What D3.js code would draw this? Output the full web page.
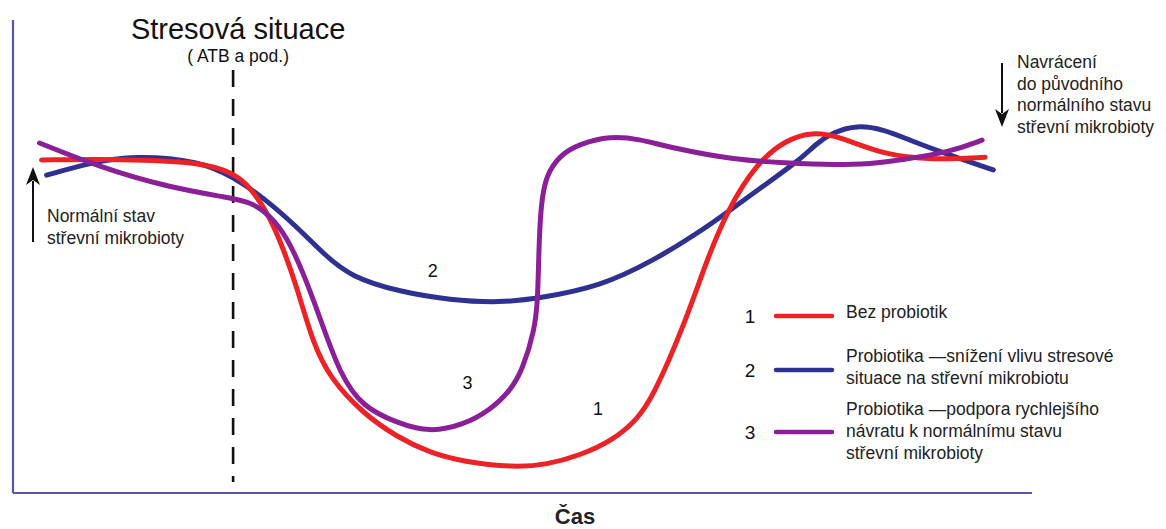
<!DOCTYPE html>
<html><head><meta charset="utf-8">
<script src="https://cdn.jsdelivr.net/npm/d3@7"></script>
<style>body{margin:0;background:#fff}svg{display:block}text{font-family:"Liberation Sans",Arial,Helvetica,sans-serif}</style>
</head><body>
<svg id="c" width="1166" height="529"></svg>
<script>
// Time (0-100) and microbiota level (0-100)
const redT = [2.8,10.5,18.4,21.6,23.3,25.2,26.5,27.9,29.4,31.1,34.3,37.7,40.9,44.2,49.1,52.4,55.6,58.9,61.2,62.8,65.8,68.1,70.1,73.0,75.8,78.4,81.2,85.4,90.3,95.4];
const redV = [70.4,70.6,70.0,67.7,64.7,58.4,51.8,43.3,31.9,24.3,16.9,11.8,8.5,6.6,5.4,6.0,7.9,11.2,15.4,20.3,35.1,49.3,59.8,69.8,74.6,76.4,75.3,71.5,70.4,71.0];
const blueT = [3.3,7.6,11.8,18.4,21.6,24.5,27.9,30.4,33.1,38.0,42.9,47.8,51.7,57.6,63.0,67.4,70.7,74.0,77.2,78.9,80.5,82.8,85.4,88.0,91.3,96.2];
const blueV = [67.2,69.8,71.4,70.2,66.8,62.6,56.2,50.7,45.7,42.5,40.8,40.2,41.2,43.6,49.3,55.2,60.3,65.5,70.4,74.0,76.3,77.8,76.9,74.6,71.9,68.3];
const purpleT = [2.6,8.5,15.1,21.3,23.3,25.2,26.9,28.5,30.1,32.1,34.3,37.7,40.9,44.2,46.8,48.8,50.0,51.2,51.5,51.6,51.8,52.3,53.7,55.6,58.6,61.5,64.2,70.7,77.2,83.8,87.0,92.0,95.1];
const purpleV = [74.0,68.9,64.7,62.4,61.5,58.8,54.1,46.5,37.2,25.0,18.2,14.8,12.8,14.4,17.5,21.6,26.0,34.5,40.8,51.4,60.9,67.2,71.5,73.8,75.5,74.8,73.2,70.4,69.6,69.3,70.4,72.1,74.6];
const stressT = 21.6;
const seriesNums = ["1","2","3"];
const seriesColors = ["#ec2227","#2e3192","#8a1f98"];
const legendLines = [["Bez probiotik"],["Probiotika \u2014sn\u00ed\u017een\u00ed vlivu stresov\u00e9","situace na st\u0159evn\u00ed mikrobiotu"],["Probiotika \u2014podpora rychlej\u0161\u00edho","n\u00e1vratu k norm\u00e1ln\u00edmu stavu","st\u0159evn\u00ed mikrobioty"]];
const curveLabels = [{n:"1",t:57.4,v:16.5},{n:"2",t:41.2,v:45.6},{n:"3",t:44.6,v:22.0}];
const leftNote = ["Norm\u00e1ln\u00ed stav","st\u0159evn\u00ed mikrobioty"];
const rightNote = ["Navr\u00e1cen\u00ed","do p\u016fvodn\u00edho","norm\u00e1ln\u00edho stavu","st\u0159evn\u00ed mikrobioty"];

const svg = d3.select("#c");
const x = d3.scaleLinear().domain([0,100]).range([13,1032]);
const y = d3.scaleLinear().domain([0,100]).range([493,20]);
const axisColor = "#5656b2";

// axes
svg.append("line").attr("x1",x(0)).attr("x2",x(0)).attr("y1",y(100)).attr("y2",y(0)).attr("stroke",axisColor).attr("stroke-width",2.2);
svg.append("line").attr("x1",x(0)).attr("x2",x(100)).attr("y1",y(0)).attr("y2",y(0)).attr("stroke",axisColor).attr("stroke-width",2.2);

// stress dashed line
svg.append("line").attr("x1",x(stressT)).attr("x2",x(stressT)).attr("y1",70).attr("y2",482)
  .attr("stroke","#111").attr("stroke-width",2.6).attr("stroke-dasharray","17,12");

svg.append("text").attr("x",x(stressT)+5).attr("y",39).attr("text-anchor","middle").attr("font-size",29).attr("fill","#111").text("Stresov\u00e1 situace");
svg.append("text").attr("x",x(stressT)+5).attr("y",62).attr("text-anchor","middle").attr("font-size",17.5).attr("fill","#111").text("( ATB a pod.)");

// curves
const line = d3.line().x(d=>x(d[0])).y(d=>y(d[1])).curve(d3.curveBasis);
const series = [[redT,redV],[blueT,blueV],[purpleT,purpleV]];
[1,0,2].forEach(i=>{
  const pts = series[i][0].map((t,k)=>[t,series[i][1][k]]);
  svg.append("path").attr("d",line(pts)).attr("fill","none").attr("stroke",seriesColors[i]).attr("stroke-width",5).attr("stroke-linecap","round").attr("stroke-linejoin","round");
});

// curve labels
curveLabels.forEach(c=>{
  svg.append("text").attr("x",x(c.t)).attr("y",y(c.v)).attr("text-anchor","middle").attr("font-size",18).attr("fill","#111").text(c.n);
});

// arrows
function arrow(xp,y1,y2){
  const dir = y2<y1?-1:1;
  svg.append("line").attr("x1",xp).attr("x2",xp).attr("y1",y1).attr("y2",y2-dir*14).attr("stroke","#111").attr("stroke-width",2);
  svg.append("path").attr("d",`M${xp},${y2} L${xp-7},${y2-dir*18} L${xp},${y2-dir*13} L${xp+7},${y2-dir*18} Z`).attr("fill","#111");
}
arrow(33,242,167);
arrow(1002,63,127);

leftNote.forEach((s,i)=>svg.append("text").attr("x",47).attr("y",222+i*21.5).attr("font-size",17.5).attr("fill","#222").text(s));
rightNote.forEach((s,i)=>svg.append("text").attr("x",1017).attr("y",68+i*21.5).attr("font-size",17.5).attr("fill","#222").text(s));

// legend
const legY = [316,370,432];
const txtY = [[318],[362,384],[415,437,459]];
seriesNums.forEach((n,i)=>{
  svg.append("text").attr("x",750).attr("y",legY[i]+7).attr("text-anchor","middle").attr("font-size",19).attr("fill","#111").text(n);
  svg.append("line").attr("x1",776).attr("x2",832).attr("y1",legY[i]).attr("y2",legY[i]).attr("stroke",seriesColors[i]).attr("stroke-width",4.5).attr("stroke-linecap","round");
  legendLines[i].forEach((s,k)=>svg.append("text").attr("x",846).attr("y",txtY[i][k]).attr("font-size",17.5).attr("fill","#222").text(s));
});

svg.append("text").attr("x",575).attr("y",524).attr("text-anchor","middle").attr("font-size",22).attr("font-weight","bold").attr("fill","#222").text("\u010cas");
</script>
</body></html>
